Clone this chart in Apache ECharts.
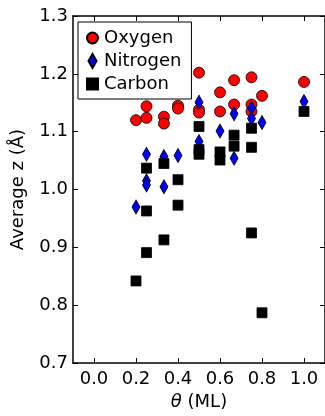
<!DOCTYPE html>
<html>
<head>
<meta charset="utf-8">
<script src="https://cdn.jsdelivr.net/npm/echarts@6/dist/echarts.min.js"></script>
<style>
html,body{margin:0;padding:0;background:#fff;}
#chart{width:325px;height:416px;}
</style>
</head>
<body>
<div id="chart"></div>
<script>
// Data
var oxygenTheta = [0.2, 0.25, 0.25, 0.333, 0.333, 0.4, 0.4, 0.5, 0.5, 0.5, 0.6, 0.6, 0.667, 0.667, 0.75, 0.75, 0.75, 0.8, 1.0];
var oxygenZ     = [1.120, 1.144, 1.124, 1.126, 1.114, 1.145, 1.140, 1.202, 1.138, 1.133, 1.168, 1.135, 1.189, 1.147, 1.194, 1.147, 1.135, 1.162, 1.186];

var nitrogenTheta = [0.2, 0.25, 0.25, 0.25, 0.333, 0.333, 0.4, 0.5, 0.5, 0.6, 0.667, 0.667, 0.75, 0.75, 0.8, 1.0];
var nitrogenZ     = [0.970, 1.061, 1.015, 1.008, 1.057, 1.005, 1.059, 1.151, 1.083, 1.101, 1.131, 1.054, 1.141, 1.123, 1.116, 1.152];

var carbonTheta = [0.2, 0.25, 0.25, 0.25, 0.333, 0.333, 0.4, 0.4, 0.5, 0.5, 0.5, 0.6, 0.6, 0.667, 0.667, 0.75, 0.75, 0.75, 0.8, 1.0];
var carbonZ     = [0.842, 1.037, 0.963, 0.891, 1.045, 0.913, 1.017, 0.973, 1.109, 1.069, 1.061, 1.065, 1.051, 1.094, 1.075, 1.106, 1.073, 0.925, 0.787, 1.135];

var xTicks = [0.0, 0.2, 0.4, 0.6, 0.8, 1.0];
var yTicks = [0.7, 0.8, 0.9, 1.0, 1.1, 1.2, 1.3];
var seriesNames = ['Oxygen', 'Nitrogen', 'Carbon'];

function pairs(xs, ys){ return xs.map(function(x,i){ return [x, ys[i]]; }); }

var FONT = 'DejaVu Sans';
var chart = echarts.init(document.getElementById('chart'), null, {renderer:'canvas'});

var axisLineStyle = {color:'#000', width:1.5};
var tickStyle = {color:'#000', width:1};

var option = {
  animation:false,
  backgroundColor:'#fff',
  grid:{left:73, top:16, width:253, height:352, containLabel:false},
  legend:{
    orient:'vertical',
    left:78, top:22,
    padding:[7,10,6,8],
    itemGap:5,
    itemWidth:11, itemHeight:14,
    borderColor:'#000', borderWidth:1,
    backgroundColor:'#fff',
    textStyle:{fontFamily:FONT, fontSize:18, lineHeight:18, color:'#000', padding:[0,0,0,1]},
    data:[
      {name:seriesNames[0], icon:'circle'},
      {name:seriesNames[1], icon:'path://M0,-7L4,0L0,7L-4,0Z'},
      {name:seriesNames[2], icon:'path://M0,0L10,0L10,10L0,10Z'}
    ]
  },
  xAxis:[{
    type:'value', min:-0.1, max:1.1, position:'bottom',
    name:'{i|θ} (ML)', nameLocation:'middle', nameGap:24,
    nameTextStyle:{fontFamily:FONT, fontSize:18, color:'#000',
      rich:{i:{fontFamily:FONT, fontSize:18, fontStyle:'italic', color:'#000'}}},
    axisLine:{show:true, onZero:false, lineStyle:axisLineStyle},
    axisTick:{show:true, inside:true, length:5, lineStyle:tickStyle, customValues:xTicks},
    axisLabel:{show:true, margin:7, fontFamily:FONT, fontSize:18, color:'#000', customValues:xTicks,
      formatter:function(v){ return v.toFixed(1); }},
    splitLine:{show:false}
  },{
    type:'value', min:-0.1, max:1.1, position:'top',
    axisLine:{show:true, onZero:false, lineStyle:axisLineStyle},
    axisTick:{show:true, inside:true, length:5, lineStyle:tickStyle, customValues:xTicks},
    axisLabel:{show:false},
    splitLine:{show:false}
  }],
  yAxis:[{
    type:'value', min:0.7, max:1.3, interval:0.1, position:'left',
    name:'Average z (Å)', nameLocation:'middle', nameGap:46,
    nameTextStyle:{fontFamily:FONT, fontSize:18, color:'#000'},
    axisLine:{show:true, onZero:false, lineStyle:axisLineStyle},
    axisTick:{show:true, inside:true, length:5, lineStyle:tickStyle},
    axisLabel:{show:true, margin:5, fontFamily:FONT, fontSize:18, color:'#000',
      formatter:function(v){ return v.toFixed(1); }},
    splitLine:{show:false}
  },{
    type:'value', min:0.7, max:1.3, interval:0.1, position:'right',
    axisLine:{show:true, onZero:false, lineStyle:axisLineStyle},
    axisTick:{show:true, inside:true, length:5, lineStyle:tickStyle},
    axisLabel:{show:false},
    splitLine:{show:false}
  }],
  series:[
    {name:seriesNames[0], type:'scatter', xAxisIndex:0, yAxisIndex:0,
     symbol:'circle', symbolSize:11,
     itemStyle:{color:'#ff0000', borderColor:'#000', borderWidth:0.8, opacity:1},
     data:pairs(oxygenTheta, oxygenZ)},
    {name:seriesNames[1], type:'scatter', xAxisIndex:0, yAxisIndex:0,
     symbol:'diamond', symbolSize:[8,14],
     itemStyle:{color:'#0000ff', borderColor:'#000', borderWidth:0.8, opacity:1},
     data:pairs(nitrogenTheta, nitrogenZ)},
    {name:seriesNames[2], type:'scatter', xAxisIndex:0, yAxisIndex:0,
     symbol:'rect', symbolSize:10,
     itemStyle:{color:'#000000', borderColor:'#000', borderWidth:0.8, opacity:1},
     data:pairs(carbonTheta, carbonZ)}
  ]
};
chart.setOption(option);
</script>
</body>
</html>
